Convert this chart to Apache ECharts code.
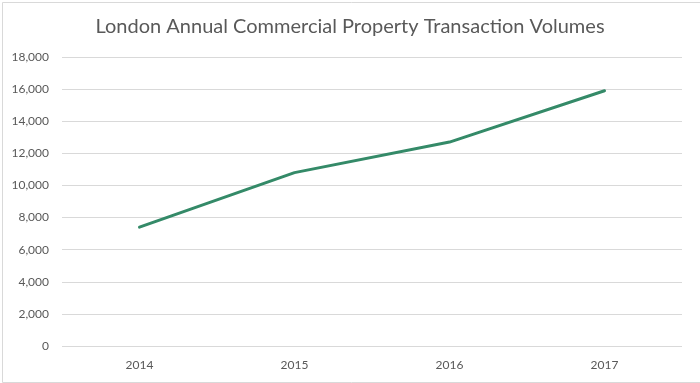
<!DOCTYPE html>
<html><head><meta charset="utf-8">
<script src="https://cdn.jsdelivr.net/npm/echarts@6/dist/echarts.min.js"></script>
<style>html,body{margin:0;padding:0;background:#fff}#c{width:700px;height:383px}</style>
</head><body><div id="c"></div>
<script>
const titleText = 'London Annual Commercial Property Transaction Volumes';
const categories = ['2014', '2015', '2016', '2017'];
const volumes = [7400, 10800, 12700, 15900];
const yMin = 0, yMax = 18000, yStep = 2000;

const chart = echarts.init(document.getElementById('c'), null, {renderer: 'canvas'});
chart.setOption({
  animation: false,
  backgroundColor: '#fff',
  title: {
    text: titleText, left: 'center', top: 12,
    textStyle: {fontFamily: 'Lato', fontWeight: 'normal', fontSize: 20, color: '#595959'}
  },
  graphic: [{
    type: 'rect', left: 0, top: 0,
    shape: {x: 0.5, y: 0.5, width: 698, height: 380},
    style: {fill: 'none', stroke: '#d9d9d9', lineWidth: 1}, silent: true
  }],
  grid: {left: 62, right: 18, top: 57, bottom: 37, containLabel: false},
  xAxis: {
    type: 'category', data: categories, boundaryGap: true,
    axisLine: {show: false}, axisTick: {show: false},
    axisLabel: {color: '#595959', fontFamily: 'Lato', fontSize: 12, margin: 13}
  },
  yAxis: {
    type: 'value', min: yMin, max: yMax, interval: yStep,
    axisLine: {show: false}, axisTick: {show: false},
    axisLabel: {color: '#595959', fontFamily: 'Lato', fontSize: 12, margin: 13,
      formatter: v => v.toLocaleString('en-US')},
    splitLine: {lineStyle: {color: '#d9d9d9', width: 1}}
  },
  series: [{
    type: 'line', data: volumes, symbol: 'none',
    lineStyle: {color: '#348a68', width: 3, cap: 'round'}
  }]
});
</script></body></html>
